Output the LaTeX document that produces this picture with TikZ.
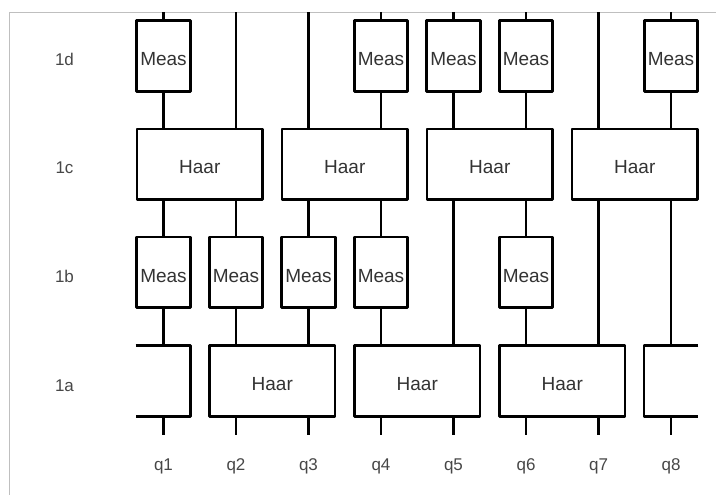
\documentclass[tikz,border=0pt]{standalone}
\usepackage{fontspec}
\setmainfont{Liberation Sans}
\begin{document}
\begin{tikzpicture}[x=1pt,y=-1pt,line join=round,
  wire/.style={draw,line width=2.8pt},
  meas/.style={draw,line width=2.8pt,fill=white,minimum width=53.3pt,minimum height=70.5pt,inner sep=0pt,
    font=\fontsize{19}{22}\selectfont,text=black!80,text height=19.6pt,text depth=0pt},
  haar/.style={meas,minimum width=125.6pt},
  lbl/.style={font=\fontsize{17}{20}\selectfont,text=black!72,anchor=base},
  frame/.style={draw=black!25,line width=1pt}]
\path[use as bounding box] (0,0) rectangle (716,495);
\draw[frame] (9.5,495) -- (9.5,12.3) -- (716,12.3);
% columns
\foreach \i in {1,...,8}{
  \coordinate (c\i) at ({163.5+72.5*(\i-1)},0);
  \coordinate (t\i) at ({163.5+72.5*(\i-1)},12.3);
  \coordinate (b\i) at ({163.5+72.5*(\i-1)},435);
}
% layer 1d
\node[meas] (m1d1) at (163.5,56) {Meas};
\node[meas] (m1d4) at (381,56) {Meas};
\node[meas] (m1d5) at (453.5,56) {Meas};
\node[meas] (m1d6) at (526,56) {Meas};
\node[meas] (m1d8) at (671,56) {Meas};
% layer 1c
\node[haar] (h1c12) at (199.75,164.2) {Haar};
\node[haar] (h1c34) at (344.75,164.2) {Haar};
\node[haar] (h1c56) at (489.75,164.2) {Haar};
\node[haar] (h1c78) at (634.75,164.2) {Haar};
% layer 1b
\node[meas] (m1b1) at (163.5,272.2) {Meas};
\node[meas] (m1b2) at (236,272.2) {Meas};
\node[meas] (m1b3) at (308.5,272.2) {Meas};
\node[meas] (m1b4) at (381,272.2) {Meas};
\node[meas] (m1b6) at (526,272.2) {Meas};
% layer 1a
\node[haar] (h1a23) at (272.25,381) {Haar};
\node[haar] (h1a45) at (417.25,381) {Haar};
\node[haar] (h1a67) at (562.25,381) {Haar};
\coordinate (p1top) at (163.5,345.7);
\coordinate (p1bot) at (163.5,416.3);
\coordinate (p8top) at (671,345.7);
\coordinate (p8bot) at (671,416.3);
\draw[wire] (135.7,345.7) -- (190.3,345.7) -- (190.3,416.3) -- (135.7,416.3);
\draw[wire] (698.3,345.7) -- (644,345.7) -- (644,416.3) -- (698.3,416.3);
% wires: top to 1d / 1c
\draw[wire] (t1) -- (m1d1.north);
\draw[wire] (t2) -- (h1c12.north -| c2);
\draw[wire] (t3) -- (h1c34.north -| c3);
\draw[wire] (t4) -- (m1d4.north);
\draw[wire] (t5) -- (m1d5.north);
\draw[wire] (t6) -- (m1d6.north);
\draw[wire] (t7) -- (h1c78.north -| c7);
\draw[wire] (t8) -- (m1d8.north);
% 1d to 1c
\draw[wire] (m1d1.south) -- (h1c12.north -| c1);
\draw[wire] (m1d4.south) -- (h1c34.north -| c4);
\draw[wire] (m1d5.south) -- (h1c56.north -| c5);
\draw[wire] (m1d6.south) -- (h1c56.north -| c6);
\draw[wire] (m1d8.south) -- (h1c78.north -| c8);
% 1c to 1b / 1a
\draw[wire] (h1c12.south -| c1) -- (m1b1.north);
\draw[wire] (h1c12.south -| c2) -- (m1b2.north);
\draw[wire] (h1c34.south -| c3) -- (m1b3.north);
\draw[wire] (h1c34.south -| c4) -- (m1b4.north);
\draw[wire] (h1c56.south -| c5) -- (h1a45.north -| c5);
\draw[wire] (h1c56.south -| c6) -- (m1b6.north);
\draw[wire] (h1c78.south -| c7) -- (h1a67.north -| c7);
\draw[wire] (h1c78.south -| c8) -- (p8top);
% 1b to 1a
\draw[wire] (m1b1.south) -- (p1top);
\draw[wire] (m1b2.south) -- (h1a23.north -| c2);
\draw[wire] (m1b3.south) -- (h1a23.north -| c3);
\draw[wire] (m1b4.south) -- (h1a45.north -| c4);
\draw[wire] (m1b6.south) -- (h1a67.north -| c6);
% stubs
\draw[wire] (p1bot) -- (b1);
\draw[wire] (h1a23.south -| c2) -- (b2);
\draw[wire] (h1a23.south -| c3) -- (b3);
\draw[wire] (h1a45.south -| c4) -- (b4);
\draw[wire] (h1a45.south -| c5) -- (b5);
\draw[wire] (h1a67.south -| c6) -- (b6);
\draw[wire] (h1a67.south -| c7) -- (b7);
\draw[wire] (p8bot) -- (b8);
% row labels
\node[lbl] (l1d) at (64.5,66) {1d};
\node[lbl] (l1c) at (64.5,174) {1c};
\node[lbl] (l1b) at (64.5,282) {1b};
\node[lbl] (l1a) at (64.5,391.7) {1a};
% qubit labels
\foreach \i in {1,...,8}{
  \node[lbl] (q\i) at ({163.5+72.5*(\i-1)},470.5) {q\i};
}
\end{tikzpicture}
\end{document}
